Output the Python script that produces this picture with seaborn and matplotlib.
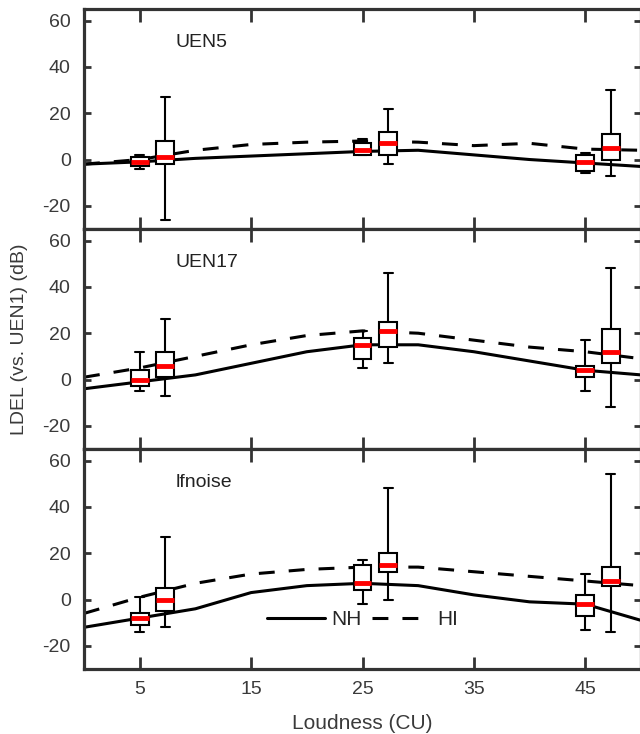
import numpy as np
import pandas as pd
import matplotlib
matplotlib.use("Agg")
import matplotlib.pyplot as plt
import seaborn as sns

sns.set_theme(style="white")
plt.rcParams['font.family'] = ['Liberation Sans', 'DejaVu Sans']
plt.rcParams['axes.unicode_minus'] = False

panels = ["UEN5", "UEN17", "lfnoise"]

# curve x positions (CU)
curve_x = [0, 5, 10, 15, 20, 25, 30, 35, 40, 45, 50]
nh_curves = {
    "UEN5":    [-2, -1, 0.5, 1.5, 2.5, 3.5, 4, 2, 0, -1.5, -3],
    "UEN17":   [-4, -1, 2, 7, 12, 15, 15, 12, 8, 4, 2],
    "lfnoise": [-12, -8, -4, 3, 6, 7, 6, 2, -1, -2, -9],
}
hi_curves = {
    "UEN5":    [-2, 0, 4, 6.5, 7.5, 8, 7.5, 6, 7, 4.5, 4],
    "UEN17":   [1, 5, 10, 15, 19, 21, 20, 17, 14, 12, 9],
    "lfnoise": [-6, 1, 7, 11, 13, 14, 14, 12, 10, 8, 6],
}

# box positions: NH at 5/25/45, HI at 7.3/27.3/47.3
box_x = [5, 7.3, 25, 27.3, 45, 47.3]
# each box: [whisker low, q1, median, q3, whisker high]
boxes = {
    "UEN5": [
        [-4, -3, -1, 1, 2],
        [-26, -2, 1, 8, 27],
        [2, 2, 4, 7, 9],
        [-2, 2, 7, 12, 22],
        [-6, -5, -1, 2, 3],
        [-7, 0, 5, 11, 30],
    ],
    "UEN17": [
        [-5, -3, 0, 4, 12],
        [-7, 1, 6, 12, 26],
        [5, 9, 15, 18, 21],
        [7, 14, 21, 25, 46],
        [-5, 1, 4, 6, 17],
        [-12, 7, 12, 22, 48],
    ],
    "lfnoise": [
        [-14, -11, -8, -6, 1],
        [-12, -5, 0, 5, 27],
        [-2, 4, 7, 15, 17],
        [0, 12, 15, 20, 48],
        [-13, -7, -2, 2, 11],
        [-14, 6, 8, 14, 54],
    ],
}

xticks = [5, 15, 25, 35, 45]
yticks = [-20, 0, 20, 40, 60]

W, H = 640, 734
fig = plt.figure(figsize=(W / 100, H / 100), dpi=100)
left = 84 / W
right = 641 / W
top_px, bot_px = 9, 669
ph = (bot_px - top_px) / 3

spine_col = "#333333"
txt_col = "#3a3a3a"
dash = (0, (5.2, 4.6))

axes = []
for i, name in enumerate(panels):
    y0 = H - (top_px + (i + 1) * ph)
    ax = fig.add_axes([left, y0 / H, right - left, ph / H])
    axes.append(ax)

    nh_df = pd.DataFrame({"x": curve_x, "y": nh_curves[name]})
    hi_df = pd.DataFrame({"x": curve_x, "y": hi_curves[name]})
    sns.lineplot(data=nh_df, x="x", y="y", ax=ax, color="black",
                 lw=2.2, zorder=0.5, label="NH")
    sns.lineplot(data=hi_df, x="x", y="y", ax=ax, color="black",
                 lw=2.2, zorder=0.5, label="HI")
    ax.lines[-1].set_linestyle(dash)

    rows = []
    for xp, vals in zip(box_x, boxes[name]):
        for v in vals:
            rows.append((xp, v))
    bdf = pd.DataFrame(rows, columns=["x", "y"])
    sns.boxplot(data=bdf, x="x", y="y", native_scale=True, ax=ax,
                width=0.7, whis=(0, 100), showfliers=False,
                color="white", linecolor="black", linewidth=1.5,
                medianprops=dict(color="red", linewidth=3.5, solid_capstyle="butt"),
                boxprops=dict(facecolor="white", edgecolor="black", zorder=3),
                whiskerprops=dict(color="black", zorder=2.5),
                capprops=dict(color="black", zorder=2.5))
    for ln in ax.lines:
        if ln.get_color() == "red":
            ln.set_zorder(4)

    ax.set_xlim(0, 50)
    ax.set_ylim(-30, 65)
    ax.set_xticks(xticks)
    ax.set_yticks(yticks)
    ax.set_xlabel("")
    ax.set_ylabel("")
    ax.tick_params(axis="x", which="both", direction="in", length=9, width=2,
                   color=spine_col, top=True, bottom=True, labelsize=14,
                   labelcolor=txt_col, pad=9)
    ax.tick_params(axis="y", which="both", direction="in", length=5, width=2,
                   color=spine_col, left=True, right=True, labelsize=14,
                   labelcolor=txt_col, pad=9.5)
    if i < 2:
        ax.set_xticklabels([])
    for sp in ax.spines.values():
        sp.set_color(spine_col)
        sp.set_linewidth(2.3)
    ax.text(8.2, 50.5, name, fontsize=14, color="#222222", ha="left", va="center")
    leg = ax.get_legend()
    if leg is not None:
        leg.remove()

ax = axes[2]
handles = [ax.lines[0], ax.lines[1]]
ax.legend(handles, ["NH", "HI"], ncol=2, frameon=False, loc="center",
          bbox_to_anchor=(0.5, 0.225), fontsize=15, handlelength=2.8,
          columnspacing=0.5, handletextpad=0.3, borderaxespad=0)
ax.set_xlabel("Loudness (CU)", fontsize=15, color=txt_col, labelpad=11)
axes[1].set_ylabel("LDEL (vs. UEN1) (dB)", fontsize=14, color=txt_col)
axes[1].yaxis.set_label_coords(-0.1, 0.5)

fig.savefig("out.png", dpi=100)
